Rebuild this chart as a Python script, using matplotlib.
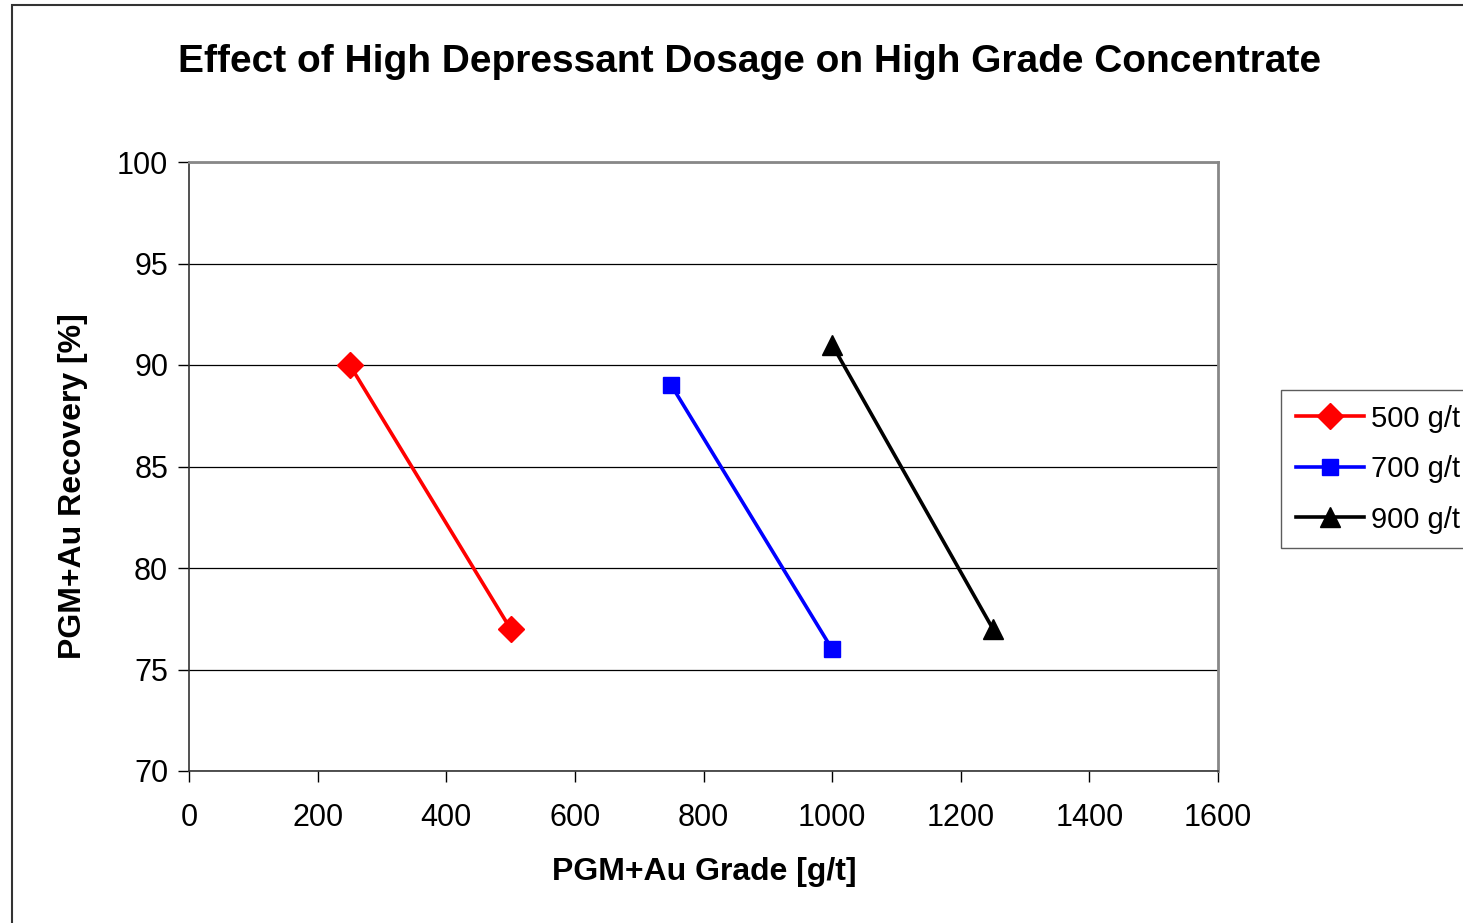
import matplotlib.pyplot as plt
from matplotlib.patches import Rectangle

plt.rcParams['font.family'] = ['Liberation Sans', 'DejaVu Sans']

# Grade [g/t] vs recovery [%] for each depressant dosage
dosages = ['500 g/t', '700 g/t', '900 g/t']
grade_500 = [250, 500]
recovery_500 = [90, 77]
grade_700 = [750, 1000]
recovery_700 = [89, 76]
grade_900 = [1000, 1250]
recovery_900 = [91, 77]

W, H = 1463, 923
fig = plt.figure(figsize=(W / 100, H / 100), dpi=100)
ax = fig.add_axes([189 / W, 1 - 771 / H, (1218 - 189) / W, (771 - 162) / H])

styles = [('#ff0000', 'D', 13), ('#0000ff', 's', 12), ('#000000', '^', 14)]
series = [(grade_500, recovery_500), (grade_700, recovery_700), (grade_900, recovery_900)]
for (x, y), (c, m, ms), name in zip(series, styles, dosages):
    ax.plot(x, y, color=c, marker=m, markersize=ms, linewidth=2.6,
            markeredgecolor=c, label=name, clip_on=False, zorder=3)

ax.set_xlim(0, 1600)
ax.set_ylim(70, 100)
ax.set_xticks(range(0, 1601, 200))
ax.set_yticks(range(70, 101, 5))
ax.tick_params(direction='out', length=8, width=1, labelsize=22, colors='#000000')
ax.tick_params(axis='x', pad=15)
ax.tick_params(axis='y', pad=7)
ax.yaxis.grid(True, color='black', linewidth=0.9)
ax.set_axisbelow(True)

for side in ['top', 'right']:
    ax.spines[side].set_color('#888888')
    ax.spines[side].set_linewidth(2)
for side in ['left', 'bottom']:
    ax.spines[side].set_color('#333333')
    ax.spines[side].set_linewidth(1.2)

fig.text(704 / W, 1 - 872 / H, 'PGM+Au Grade [g/t]', ha='center', va='center',
         fontsize=23, fontweight='bold')
fig.text(73 / W, 1 - 486 / H, 'PGM+Au Recovery [%]', ha='center', va='center',
         rotation=90, fontsize=23, fontweight='bold')
fig.text(750 / W, 1 - 62 / H, 'Effect of High Depressant Dosage on High Grade Concentrate',
         ha='center', va='center', fontsize=28, fontweight='bold')

leg = ax.legend(loc='upper left', bbox_to_anchor=(1281 / W, 1 - 390 / H),
                bbox_transform=fig.transFigure, fontsize=21,
                frameon=True, fancybox=False, handlelength=2.35, handletextpad=0.25,
                borderpad=0.5, labelspacing=0.77, borderaxespad=0)
leg.get_frame().set_edgecolor('#333333')
leg.get_frame().set_linewidth(1)

# outer chart frame
fig.patches.append(Rectangle((12 / W, -0.1), 1.2, 1.1 - 5 / H, transform=fig.transFigure,
                             fill=False, edgecolor='#333333', linewidth=1.5))

fig.savefig('out.png', dpi=100)
